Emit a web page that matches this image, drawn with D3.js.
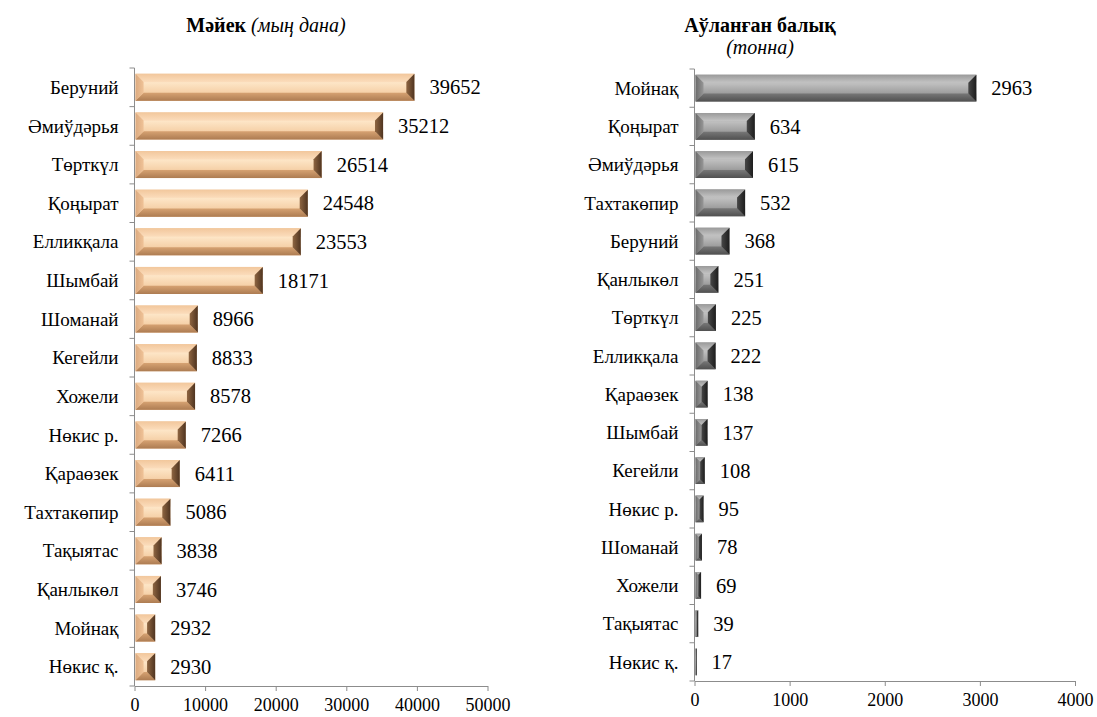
<!DOCTYPE html>
<html>
<head>
<meta charset="utf-8">
<script src="https://cdn.jsdelivr.net/npm/d3@7"></script>
<style>
  body { margin: 0; background: #fff; }
</style>
</head>
<body>
<div class="chart"></div>
<script>
// left panel: eggs (thousand pcs)
var eggCats = ["Беруний", "Әмиўдәрья", "Төрткүл", "Қоңырат", "Елликқала", "Шымбай", "Шоманай",
  "Кегейли", "Хожели", "Нөкис р.", "Қараөзек", "Тахтакөпир", "Тақыятас", "Қанлыкөл", "Мойнақ", "Нөкис қ."];
var eggVals = [39652, 35212, 26514, 24548, 23553, 18171, 8966, 8833, 8578, 7266, 6411, 5086, 3838, 3746, 2932, 2930];
var eggTicks = [0, 10000, 20000, 30000, 40000, 50000];

// right panel: fish caught (tonnes)
var fishCats = ["Мойнақ", "Қоңырат", "Әмиўдәрья", "Тахтакөпир", "Беруний", "Қанлыкөл", "Төрткүл", "Елликқала",
  "Қараөзек", "Шымбай", "Кегейли", "Нөкис р.", "Шоманай", "Хожели", "Тақыятас", "Нөкис қ."];
var fishVals = [2963, 634, 615, 532, 368, 251, 225, 222, 138, 137, 108, 95, 78, 69, 39, 17];
var fishTicks = [0, 1000, 2000, 3000, 4000];

var FONT = "Liberation Serif";

var svg = d3.select(".chart").append("svg")
  .attr("width", 1097)
  .attr("height", 717)
  .attr("font-family", FONT);

var defs = svg.append("defs");

// colour sets for the bevelled bars
var palettes = {
  peach: { id: "gPeach", face: ["#f0c497", "#fde5c6", "#f6d2aa", "#dfa878"],
           top: ["#f2c79c", "#fbdcbb"], bottom: ["#d6a272", "#ad7c52"], left: ["#dcaa7f", "#efc297"], right: ["#8e6541", "#4f3420"] },
  grey: { id: "gGrey", face: ["#8a8a8a", "#bfbfbf", "#9f9f9f", "#747474"],
          top: ["#9a9a9a", "#c4c4c4"], bottom: ["#777777", "#505050"], left: ["#6a6a6a", "#969696"], right: ["#474747", "#1d1d1d"] }
};

function grad(id, c, vertical) {
  var g = defs.append("linearGradient").attr("id", id)
    .attr("x1", 0).attr("y1", 0).attr("x2", vertical ? 0 : 1).attr("y2", vertical ? 1 : 0);
  c.forEach(function(col, i) {
    g.append("stop").attr("offset", i / (c.length - 1)).attr("stop-color", col);
  });
}

Object.keys(palettes).forEach(function(k) {
  var p = palettes[k];
  grad(p.id, p.face, true);
  grad(p.id + "T", p.top, true);
  grad(p.id + "B", p.bottom, true);
  grad(p.id + "L", p.left, false);
  grad(p.id + "R", p.right, false);
});

function drawPanel(opt) {
  var x = d3.scaleLinear().domain([0, opt.max]).range([opt.x0, opt.x1]);
  var y = d3.scaleBand().domain(opt.cats).range([opt.yTop, opt.yBot]).paddingInner(0.3).paddingOuter(0.15);
  var pal = opt.pal;

  // axes
  var yAxis = svg.append("g")
    .attr("transform", "translate(" + opt.x0 + ",0)")
    .call(d3.axisLeft(y).tickSize(5).tickFormat(""));
  // category ticks sit on band boundaries
  yAxis.selectAll(".tick").remove();
  yAxis.select(".domain").attr("d", "M0," + opt.yTop + "V" + opt.yBot);
  var bounds = d3.range(opt.cats.length + 1).map(function(i) {
    return opt.yTop + i * (opt.yBot - opt.yTop) / opt.cats.length;
  });
  yAxis.selectAll("line.b").data(bounds).enter().append("line")
    .attr("x1", -5).attr("x2", 0).attr("y1", function(d) { return d; }).attr("y2", function(d) { return d; });

  var xAxis = svg.append("g")
    .attr("transform", "translate(0," + opt.yBot + ")")
    .call(d3.axisBottom(x).tickValues(opt.ticks).tickSize(5).tickSizeOuter(0).tickFormat(d3.format("d")));
  xAxis.attr("font-family", FONT).attr("font-size", 18);
  xAxis.selectAll("text").attr("fill", "#000").attr("dy", "0.95em");
  [yAxis, xAxis].forEach(function(a) {
    a.select(".domain").attr("stroke", "#8c8c8c");
    a.selectAll("line").attr("stroke", "#8c8c8c");
  });

  // category labels
  svg.append("g").selectAll("text").data(opt.cats).enter().append("text")
    .attr("x", opt.x0 - 16)
    .attr("y", function(d) { return y(d) + y.bandwidth() / 2; })
    .attr("dy", "0.35em")
    .attr("text-anchor", "end")
    .attr("font-family", FONT)
    .attr("font-size", 19)
    .text(function(d) { return d; });

  // bars
  var bars = svg.append("g").selectAll("g").data(opt.vals).enter().append("g");
  bars.each(function(v, i) {
    var g = d3.select(this);
    var xa = x(0) + 1, xb = x(v), ya = y(opt.cats[i]), h = y.bandwidth(), yb = ya + h;
    var w = Math.max(xb - xa, 1.5);
    xb = xa + w;
    var b = Math.min(h * 0.3, w / 2);
    var pts = function(a) { return a.map(function(p) { return p.join(","); }).join(" "); };
    g.append("rect").attr("x", xa).attr("y", ya).attr("width", w).attr("height", h)
      .attr("fill", "url(#" + pal.id + ")");
    g.append("polygon").attr("fill", "url(#" + pal.id + "T)")
      .attr("points", pts([[xa, ya], [xb, ya], [xb - b, ya + b], [xa + b, ya + b]]));
    g.append("polygon").attr("fill", "url(#" + pal.id + "B)")
      .attr("points", pts([[xa, yb], [xb, yb], [xb - b, yb - b], [xa + b, yb - b]]));
    g.append("polygon").attr("fill", "url(#" + pal.id + "L)")
      .attr("points", pts([[xa, ya], [xa + b, ya + b], [xa + b, yb - b], [xa, yb]]));
    g.append("polygon").attr("fill", "url(#" + pal.id + "R)")
      .attr("points", pts([[xb, ya], [xb - b, ya + b], [xb - b, yb - b], [xb, yb]]));
  });

  // value labels
  svg.append("g").selectAll("text").data(opt.vals).enter().append("text")
    .attr("x", function(d) { return Math.max(x(d), x(0) + 2) + 15; })
    .attr("y", function(d, i) { return y(opt.cats[i]) + y.bandwidth() / 2; })
    .attr("dy", "0.35em")
    .attr("font-family", FONT)
    .attr("font-size", 20.5)
    .text(function(d) { return d; });
}

drawPanel({ cats: eggCats, vals: eggVals, ticks: eggTicks, max: 50000,
  x0: 134.5, x1: 487.5, yTop: 68, yBot: 686, pal: palettes.peach });
drawPanel({ cats: fishCats, vals: fishVals, ticks: fishTicks, max: 4000,
  x0: 694.5, x1: 1075, yTop: 69, yBot: 681, pal: palettes.grey });

// titles
var t1 = svg.append("text").attr("x", 266).attr("y", 32).attr("text-anchor", "middle")
  .attr("font-family", FONT).attr("font-size", 20);
t1.append("tspan").attr("font-weight", "bold").text("Мәйек ");
t1.append("tspan").attr("font-style", "italic").text("(мың дана)");

svg.append("text").attr("x", 760).attr("y", 32).attr("text-anchor", "middle")
  .attr("font-family", FONT).attr("font-size", 20).attr("font-weight", "bold").text("Аўланған балық");
svg.append("text").attr("x", 760).attr("y", 54).attr("text-anchor", "middle")
  .attr("font-family", FONT).attr("font-size", 20).attr("font-style", "italic").text("(тонна)");
</script>
</body>
</html>
